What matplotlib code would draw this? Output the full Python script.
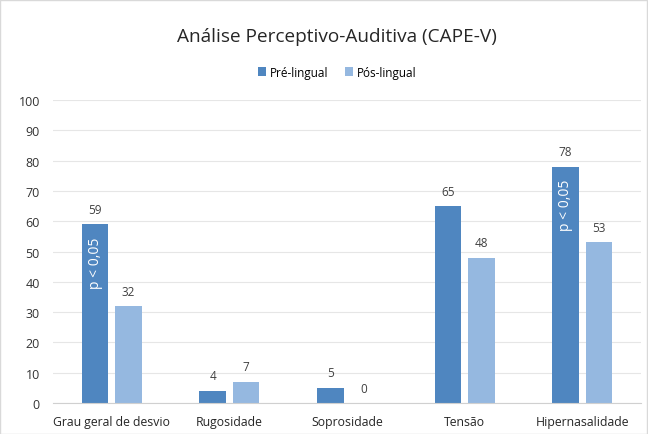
import matplotlib
matplotlib.use("Agg")
import matplotlib.pyplot as plt
import numpy as np

plt.rcParams['font.family'] = ['Open Sans', 'DejaVu Sans']

categories = ['Grau geral de desvio', 'Rugosidade', 'Soprosidade', 'Tensão', 'Hipernasalidade']
pre_lingual = [59, 4, 5, 65, 78]
pos_lingual = [32, 7, 0, 48, 53]
p_notes = ['p < 0,05', '', '', '', 'p < 0,05']

dark = '#4F86C0'
light = '#95B8E0'

fig = plt.figure(figsize=(6.48, 4.35), dpi=100)
ax = fig.add_axes([53 / 648, 31 / 435, 588 / 648, 303 / 435])

x = np.arange(len(categories))
w = 0.227
off = 0.142
b1 = ax.bar(x - off, pre_lingual, w, color=dark, label='Pré-lingual', zorder=2)
b2 = ax.bar(x + off, pos_lingual, w, color=light, label='Pós-lingual', zorder=2)

for rect, v in zip(b1, pre_lingual):
    ax.text(rect.get_x() + rect.get_width() / 2, v + 2.8, str(v), ha='center', va='bottom',
            fontsize=8.5, color='#404040')
for rect, v in zip(b2, pos_lingual):
    ax.text(rect.get_x() + rect.get_width() / 2, v + 2.8, str(v), ha='center', va='bottom',
            fontsize=8.5, color='#404040')
for rect, v, note in zip(b1, pre_lingual, p_notes):
    if note:
        ax.text(rect.get_x() + rect.get_width() / 2, v - 4, note, rotation=90,
                ha='center', va='top', fontsize=10, color='white')

ax.set_ylim(0, 100)
ax.set_xlim(-0.5, len(categories) - 0.5)
ax.set_yticks(range(0, 101, 10))
ax.set_xticks(x)
ax.set_xticklabels(categories, fontsize=8.8, color='#262626')
ax.tick_params(axis='y', labelsize=9, labelcolor='#333333', length=0, pad=9.5)
ax.tick_params(axis='x', length=0, pad=9)
ax.grid(axis='y', color='#E6E6E6', lw=0.8, zorder=0)
for s in ['top', 'right', 'left']:
    ax.spines[s].set_visible(False)
ax.spines['bottom'].set_color('#D0D0D0')

fig.text(0.52, 0.915, 'Análise Perceptivo-Auditiva (CAPE-V)', ha='center', va='center',
         fontsize=13.7, color='#262626')
fig.legend(loc='center', bbox_to_anchor=(0.52, 0.832), ncol=2, frameon=False,
           fontsize=8.5, handlelength=0.7, handleheight=0.7, columnspacing=1.4,
           handletextpad=0.3)

border = plt.Rectangle((0.0, 0.0), 0.998, 0.998, transform=fig.transFigure, fill=False,
                       edgecolor='#D9D9D9', lw=1)
fig.patches.append(border)

fig.savefig('out.png', dpi=100)
